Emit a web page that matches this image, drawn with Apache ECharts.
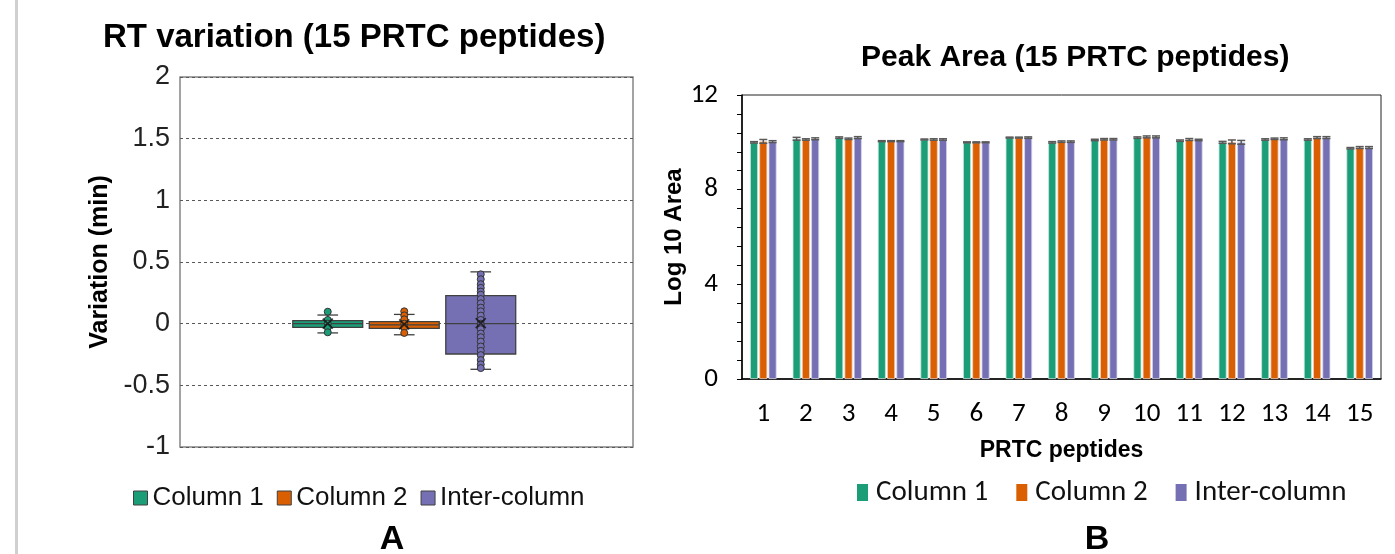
<!DOCTYPE html>
<html>
<head>
<meta charset="utf-8">
<script src="https://cdn.jsdelivr.net/npm/echarts@6/dist/echarts.min.js"></script>
<style>
  body { margin: 0; background: #fff; }
  #main { width: 1395px; height: 554px; }
</style>
</head>
<body>
<div id="main"></div>
<script>
// A: RT variation box plots (min, Q1, median, Q3, max) + individual points
var boxGroups = ['Column 1', 'Column 2', 'Inter-column'];
var col1Box = [-0.075, -0.03, 0.0, 0.024, 0.07];
var col2Box = [-0.09, -0.038, -0.01, 0.016, 0.075];
var interBox = [-0.37, -0.246, 0.0, 0.227, 0.42];
var boxMeans = [0.0, -0.005, 0.005];
var col1Points = [0.097, 0.03, 0.0, -0.03, -0.07];
var col2Points = [0.1, 0.067, 0.035, 0.0, -0.03, -0.075];
var interPoints = [0.40, 0.36, 0.32, 0.29, 0.26, 0.235, 0.20, 0.165, 0.13, 0.10, 0.065, 0.03, 0.0,
  -0.01, -0.045, -0.08, -0.11, -0.145, -0.185, -0.22, -0.255, -0.295, -0.33, -0.36];
var rtTicks = [-1, 2, 0.5]; // min, max, step

// B: peak area (log10) per PRTC peptide
var peptides = ['1', '2', '3', '4', '5', '6', '7', '8', '9', '10', '11', '12', '13', '14', '15'];
var col1Area = [10.0, 10.15, 10.2, 10.05, 10.12, 10.0, 10.2, 10.0, 10.1, 10.2, 10.07, 10.0, 10.12, 10.12, 9.75];
var col2Area = [10.04, 10.12, 10.15, 10.05, 10.12, 10.0, 10.2, 10.03, 10.13, 10.23, 10.12, 10.02, 10.15, 10.2, 9.78];
var interArea = [10.03, 10.15, 10.2, 10.05, 10.12, 10.0, 10.2, 10.03, 10.13, 10.23, 10.1, 10.0, 10.15, 10.2, 9.78];
var col1Err = [0.03, 0.06, 0.03, 0.02, 0.02, 0.02, 0.02, 0.03, 0.03, 0.03, 0.03, 0.04, 0.03, 0.03, 0.03];
var col2Err = [0.08, 0.03, 0.03, 0.02, 0.03, 0.02, 0.02, 0.03, 0.03, 0.04, 0.04, 0.08, 0.03, 0.04, 0.04];
var interErr = [0.04, 0.04, 0.04, 0.02, 0.03, 0.02, 0.03, 0.03, 0.03, 0.04, 0.03, 0.08, 0.04, 0.04, 0.04];

var colors = ['#1b9e77', '#d95f02', '#7570b3'];
var BAR_W = 8;
var BAR_STEP = 9.3;
var FONT = '"Liberation Sans", Arial, sans-serif';
var FONT_B = 'Carlito, Lato, sans-serif';

var myChart = echarts.init(document.getElementById('main'));

function renderBox(params, api) {
  var i = api.value(0);
  var pMin = api.coord([i, api.value(1)]);
  var pQ1 = api.coord([i, api.value(2)]);
  var pMed = api.coord([i, api.value(3)]);
  var pQ3 = api.coord([i, api.value(4)]);
  var pMax = api.coord([i, api.value(5)]);
  var band = api.size([1, 0])[0];
  var hw = band * 0.457;
  var cw = band * 0.135;
  var x = pMed[0];
  var st = { stroke: '#404040', lineWidth: 1.3 };
  return {
    type: 'group',
    children: [
      { type: 'line', shape: { x1: x, y1: pQ3[1], x2: x, y2: pMax[1] }, style: st },
      { type: 'line', shape: { x1: x, y1: pQ1[1], x2: x, y2: pMin[1] }, style: st },
      { type: 'line', shape: { x1: x - cw, y1: pMax[1], x2: x + cw, y2: pMax[1] }, style: st },
      { type: 'line', shape: { x1: x - cw, y1: pMin[1], x2: x + cw, y2: pMin[1] }, style: st },
      { type: 'rect', shape: { x: x - hw, y: pQ3[1], width: hw * 2, height: pQ1[1] - pQ3[1] },
        style: { fill: colors[i], stroke: '#404040', lineWidth: 1.3 } },
      { type: 'line', shape: { x1: x - hw, y1: pMed[1], x2: x + hw, y2: pMed[1] }, style: st }
    ]
  };
}

function renderErr(params, api) {
  var s = api.value(3);
  var top = api.coord([api.value(0), api.value(1) + api.value(2)]);
  var bot = api.coord([api.value(0), api.value(1) - api.value(2)]);
  var x = top[0] + (s - 1) * BAR_STEP;
  var hw = BAR_W / 2;
  var st = { stroke: '#595959', lineWidth: 1.5 };
  return {
    type: 'group',
    children: [
      { type: 'line', shape: { x1: x, y1: top[1], x2: x, y2: bot[1] }, style: st },
      { type: 'line', shape: { x1: x - hw, y1: top[1], x2: x + hw, y2: top[1] }, style: st },
      { type: 'line', shape: { x1: x - hw, y1: bot[1], x2: x + hw, y2: bot[1] }, style: st }
    ]
  };
}

var boxData = [[0].concat(col1Box), [1].concat(col2Box), [2].concat(interBox)];
function pts(idx, arr) {
  return arr.map(function (v) { return [idx, v]; });
}
var meanData = boxMeans.map(function (v, i) { return [i, v]; });

var areas = [col1Area, col2Area, interArea];
var errs = [col1Err, col2Err, interErr];
var errData = [];
for (var s = 0; s < 3; s++) {
  for (var k = 0; k < peptides.length; k++) {
    errData.push([k, areas[s][k], errs[s][k], s]);
  }
}

var option = {
  animation: false,
  backgroundColor: '#fff',
  textStyle: { fontFamily: FONT },
  title: [
    { text: 'RT variation (15 PRTC peptides)', left: 98, top: 16,
      textStyle: { fontSize: 33, fontWeight: 'bold', color: '#000', fontFamily: FONT } },
    { text: 'Peak Area (15 PRTC peptides)', left: 856, top: 38,
      textStyle: { fontSize: 30, fontWeight: 'bold', color: '#000', fontFamily: FONT } }
  ],
  graphic: [
    { type: 'rect', shape: { x: 15, y: 0, width: 3, height: 554 }, style: { fill: '#d0d0d0' } },
    { type: 'text', x: 392, y: 540, style: { text: 'A', fontSize: 34, fontWeight: 'bold', fontFamily: FONT,
      fill: '#000', textAlign: 'center', textVerticalAlign: 'middle' } },
    { type: 'text', x: 1097, y: 540, style: { text: 'B', fontSize: 34, fontWeight: 'bold', fontFamily: FONT,
      fill: '#000', textAlign: 'center', textVerticalAlign: 'middle' } }
  ],
  legend: [
    {
      left: 128, top: 480, icon: 'rect', itemWidth: 14, itemHeight: 14, itemGap: 13,
      textStyle: { fontSize: 26, color: '#111', fontFamily: FONT },
      itemStyle: { borderColor: '#404040', borderWidth: 1 },
      data: boxGroups
    },
    {
      left: 852, top: 473, icon: 'rect', itemWidth: 11, itemHeight: 17, itemGap: 28,
      textStyle: { fontSize: 29, color: '#111', fontFamily: FONT_B, padding: [0, 0, 0, 3] },
      itemStyle: { borderWidth: 0 },
      data: boxGroups
    }
  ],
  grid: [
    { left: 180, top: 77, width: 453, height: 370, show: true, borderColor: '#858585', borderWidth: 1.5 },
    { left: 289.5, top: 77, width: 229.5, height: 370 },
    { left: 742, top: 95, width: 639, height: 284, show: true, borderColor: '#222', borderWidth: 1 }
  ],
  xAxis: [
    { gridIndex: 0, type: 'category', data: [''], axisLine: { show: false }, axisTick: { show: false },
      axisLabel: { show: false } },
    { gridIndex: 1, type: 'category', data: boxGroups, show: false },
    {
      gridIndex: 2, type: 'category', data: peptides,
      name: 'PRTC peptides', nameLocation: 'middle', nameGap: 60,
      nameTextStyle: { fontSize: 23, fontWeight: 'bold', color: '#000', fontFamily: FONT },
      axisLine: { lineStyle: { color: '#000', width: 1.5 } },
      axisTick: { alignWithLabel: true, length: 5, lineStyle: { color: '#000' } },
      axisLabel: { fontSize: 27, color: '#000', margin: 22, fontFamily: FONT_B }
    }
  ],
  yAxis: [
    {
      gridIndex: 0, type: 'value', min: rtTicks[0], max: rtTicks[1], interval: rtTicks[2],
      name: 'Variation (min)', nameLocation: 'middle', nameGap: 67,
      nameTextStyle: { fontSize: 25, fontWeight: 'bold', color: '#000', fontFamily: FONT },
      axisLine: { show: false }, axisTick: { show: false },
      axisLabel: { fontSize: 27, color: '#222', margin: 10, fontFamily: FONT },
      splitLine: { lineStyle: { color: '#595959', type: [3, 3], width: 1 } }
    },
    { gridIndex: 1, type: 'value', min: rtTicks[0], max: rtTicks[1], show: false, splitLine: { show: false } },
    {
      gridIndex: 2, type: 'value', min: 0, max: 12, interval: 4,
      name: 'Log 10 Area', nameLocation: 'middle', nameGap: 54,
      nameTextStyle: { fontSize: 24, fontWeight: 'bold', color: '#000', fontFamily: FONT },
      axisLine: { show: true, lineStyle: { color: '#000', width: 1.5 } },
      axisTick: { show: true, length: 5, lineStyle: { color: '#000' } },
      minorTick: { show: true, splitNumber: 5, length: 5, lineStyle: { color: '#000' } },
      axisLabel: { fontSize: 27, color: '#000', margin: 24, fontFamily: FONT_B },
      splitLine: { show: false }
    }
  ],
  series: [
    {
      name: 'box', type: 'custom', xAxisIndex: 1, yAxisIndex: 1,
      renderItem: renderBox, encode: { x: 0, y: [1, 2, 3, 4, 5] }, data: boxData, z: 2
    },
    {
      name: 'Column 1', type: 'scatter', xAxisIndex: 1, yAxisIndex: 1, data: pts(0, col1Points),
      symbolSize: 7, itemStyle: { color: colors[0], borderColor: '#333', borderWidth: 1, opacity: 1 }, z: 3
    },
    {
      name: 'Column 2', type: 'scatter', xAxisIndex: 1, yAxisIndex: 1, data: pts(1, col2Points),
      symbolSize: 7, itemStyle: { color: colors[1], borderColor: '#333', borderWidth: 1, opacity: 1 }, z: 3
    },
    {
      name: 'Inter-column', type: 'scatter', xAxisIndex: 1, yAxisIndex: 1, data: pts(2, interPoints),
      symbolSize: 7, itemStyle: { color: colors[2], borderColor: '#333', borderWidth: 1, opacity: 1 }, z: 3
    },
    {
      name: 'mean', type: 'scatter', xAxisIndex: 1, yAxisIndex: 1, data: meanData,
      symbol: 'path://M0,0L10,10M10,0L0,10', symbolSize: 10,
      itemStyle: { color: 'none', borderColor: '#111', borderWidth: 1.8 }, z: 4
    },
    {
      name: 'Column 1', type: 'bar', xAxisIndex: 2, yAxisIndex: 2, data: col1Area,
      barWidth: BAR_W, barGap: '16%', itemStyle: { color: colors[0], borderColor: '#c9e8df', borderWidth: 0.8 }
    },
    {
      name: 'Column 2', type: 'bar', xAxisIndex: 2, yAxisIndex: 2, data: col2Area,
      barWidth: BAR_W, barGap: '16%', itemStyle: { color: colors[1], borderColor: '#f3d2bd', borderWidth: 0.8 }
    },
    {
      name: 'Inter-column', type: 'bar', xAxisIndex: 2, yAxisIndex: 2, data: interArea,
      barWidth: BAR_W, barGap: '16%', itemStyle: { color: colors[2], borderColor: '#d9d8ec', borderWidth: 0.8 }
    },
    {
      name: 'err', type: 'custom', xAxisIndex: 2, yAxisIndex: 2,
      renderItem: renderErr, encode: { x: 0, y: 1 }, data: errData, z: 5
    }
  ]
};

myChart.setOption(option);
</script>
</body>
</html>
